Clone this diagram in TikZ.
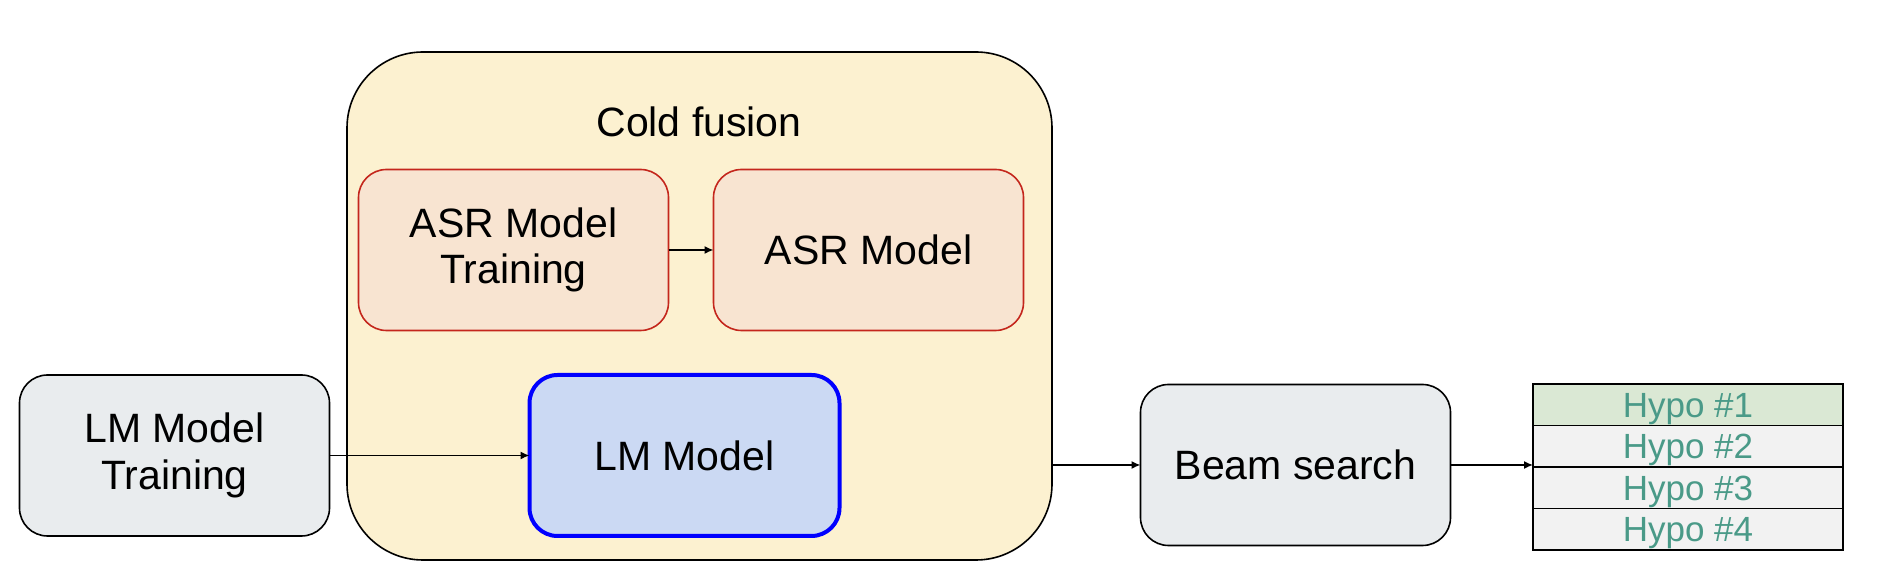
\documentclass[tikz,border=0pt]{standalone}
\usepackage{fontspec}
\setmainfont{Liberation Sans}
\usetikzlibrary{positioning,arrows.meta}
\definecolor{coldfill}{HTML}{FCF1D0}
\definecolor{asrfill}{HTML}{F8E4D1}
\definecolor{asrred}{HTML}{C4261C}
\definecolor{lmfill}{HTML}{CBD9F3}
\definecolor{boxgray}{HTML}{E9ECEE}
\definecolor{hypogreen}{HTML}{DAE8D4}
\definecolor{hypogray}{HTML}{F2F2F2}
\definecolor{hypotext}{HTML}{4A9A88}
\begin{document}
\begin{tikzpicture}[x=0.5pt, y=-0.5pt, >={Latex[length=4.5pt,width=4pt]}]
    \tikzstyle{every node}=[inner sep=0pt, outer sep=0pt, align=center, font=\fontsize{20.5}{23.25}\selectfont]
    \tikzstyle{oneline}=[text height=14.7pt, text depth=0pt]
    \tikzstyle{box}=[draw, line width=0.8pt, rounded corners=14pt, minimum width=155pt, minimum height=80.5pt]
    \tikzstyle{hypo}=[draw, line width=0.8pt, fill=hypogray, text=hypotext, minimum width=155pt, minimum height=20.75pt, text height=12.5pt, text depth=0pt, font=\fontsize{17.5}{20}\selectfont]
    \useasboundingbox (0,0) rectangle (1902,565);
    \node [draw, line width=0.8pt, rounded corners=38pt, fill=coldfill, minimum width=352.5pt, minimum height=254pt] (cold) at (699.5,306) {};
    \node [oneline] (coldtitle) at (699,122) {Cold fusion};
    \node [box, draw=asrred, fill=asrfill] (asrtrain) at (513.5,250) {ASR Model\\Training};
    \node [box, oneline, draw=asrred, fill=asrfill] (asr) at (868.5,250) {ASR Model};
    \node [box, fill=boxgray] (lmtrain) at (174.5,455.5) {LM Model\\Training};
    \node [box, oneline, draw=blue, line width=2pt, fill=lmfill] (lm) at (684.5,455.5) {LM Model};
    \node [box, oneline, fill=boxgray] (beam) at (1295.5,465) {Beam search};
    \node [hypo, fill=hypogreen] (hypo1) at (1688,404.75) {Hypo \#1};
    \node [hypo, below=0pt of hypo1] (hypo2) {Hypo \#2};
    \node [hypo, below=0pt of hypo2] (hypo3) {Hypo \#3};
    \node [hypo, below=0pt of hypo3] (hypo4) {Hypo \#4};
    \draw [->, line width=0.75pt] (asrtrain) -- (asr);
    \draw [->, line width=0.75pt] (lmtrain) -- (lm);
    \draw [->, line width=0.75pt] (cold.east |- beam) -- (beam);
    \draw [->, line width=0.75pt] (beam) -- (beam -| hypo2.south west);
\end{tikzpicture}
\end{document}
